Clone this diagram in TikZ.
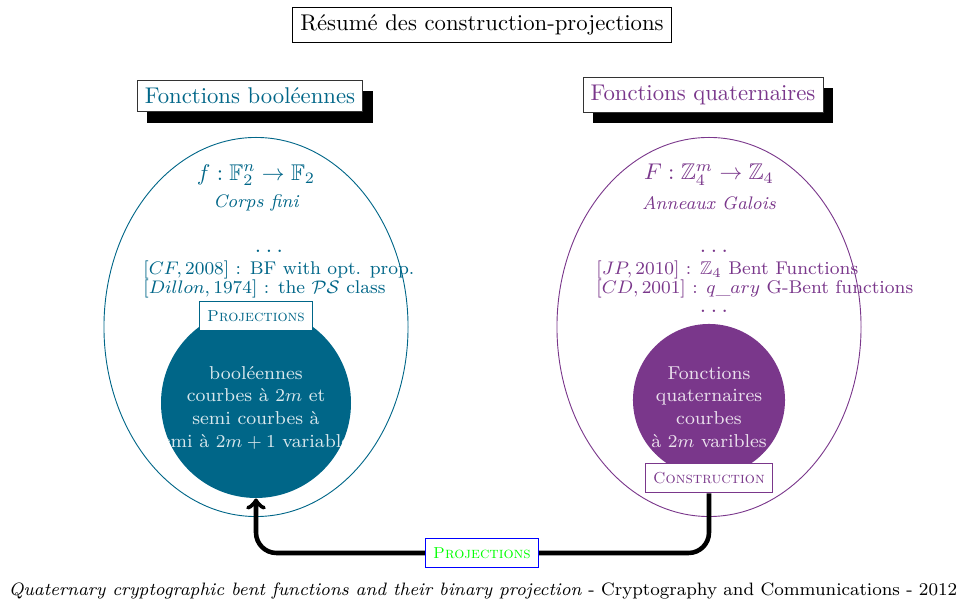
\documentclass[tikz,border=0pt]{standalone}
\usepackage{amsmath}
\usepackage{amssymb}
\usepackage{tikz}
\usetikzlibrary{arrows,shapes.geometric,shadows}

\definecolor{booleen}{RGB}{0,102,136}
\definecolor{quatern}{RGB}{122,55,139}

\newcommand{\pointilles}{.\kern2pt.\kern2pt.}

\begin{document}
\begin{tikzpicture}[x=0.44pt,y=-0.44pt,thin]

    \tikzstyle{titre}=[draw=black!80,fill=white,drop shadow={shadow xshift=4.4pt,shadow yshift=-4.8pt,fill=black,opacity=1}]
    \tikzstyle{info}=[inner sep=0pt,font=\fontsize{8.1pt}{9pt}\selectfont]
    \tikzstyle{etiq}=[fill=white,inner xsep=3.5pt,inner ysep=4pt,font=\scriptsize\scshape]
    \tikzstyle{rond}=[circle,inner sep=0pt]
    \tikzstyle{dedans}=[text=white,text opacity=0.85,align=center,font=\fontsize{8.2pt}{10pt}\selectfont]
    \tikzstyle{fleche}=[line width=2pt,rounded corners=9pt]

    \useasboundingbox (0,0) rectangle (959,601);

    \node[draw=black] (resume) at (482,25) {R\'esum\'e des construction-projections};

    % fonctions booleennes
    \node[titre,text=booleen] (fb) at (250,96) {Fonctions bool\'eennes};
    \node[ellipse,draw=booleen,inner sep=0pt,minimum width=133.8pt,minimum height=166.8pt] (ellb) at (256,327) {};
    \node[text=booleen] (f) at (256,175) {$f:\mathbb{F}_2^n\rightarrow\mathbb{F}_2$};
    \node[text=booleen,font=\footnotesize\itshape] (corps) at (256,203) {Corps fini};
    \node[inner sep=0pt,text=booleen] (db) at (269,251) {\pointilles};
    \node[info,text=booleen,anchor=west] (cf) at (143,270) {$[CF,2008]$ : BF with opt. prop.};
    \node[info,text=booleen,anchor=west] (dil) at (143,289) {$[Dillon,1974]$ : the $\mathcal{PS}$ class};
    \node[rond,fill=booleen,minimum size=83.6pt,
      path picture={\node[dedans] (tb) at ([yshift=-2pt]path picture bounding box.center)
        {bool\'eennes\\courbes \`a $2m$ et\\semi courbes \`a\\semi \`a $2m+1$ variables};}] (cb) at (256,403) {};
    \node[etiq,draw=booleen,text=booleen] (projb) at (256,316) {Projections};

    % fonctions quaternaires
    \node[titre,text=quatern] (fq) at (703,95) {Fonctions quaternaires};
    \node[ellipse,draw=quatern,inner sep=0pt,minimum width=133.8pt,minimum height=166.8pt] (ellq) at (709,327) {};
    \node[text=quatern] (F) at (709,175) {$F:\mathbb{Z}_4^m\rightarrow\mathbb{Z}_4$};
    \node[text=quatern,font=\footnotesize\itshape] (anneaux) at (709,203) {Anneaux Galois};
    \node[inner sep=0pt,text=quatern] (dq1) at (714,251) {\pointilles};
    \node[info,text=quatern,anchor=west] (jp) at (596,270) {$[JP,2010]$ : $\mathbb{Z}_4$ Bent Functions};
    \node[info,text=quatern,anchor=west] (cd) at (596,289) {$[CD,2001]$ : $q\_ary$ G-Bent functions};
    \node[inner sep=0pt,text=quatern] (dq2) at (714,311) {\pointilles};
    \node[rond,fill=quatern,minimum size=66.9pt] (cq) at (709,400) {};
    \node[dedans] (tq) at (709,407) {Fonctions\\quaternaires\\courbes\\\`a $2m$ varibles};
    \node[etiq,draw=quatern,text=quatern] (constr) at (709,478) {Construction};

    % projection
    \node[etiq,draw=blue,text=green] (proj) at (482,553) {Projections};
    \draw[fleche] (constr.south) |- (proj.east);
    \draw[fleche,->] (proj.west) -| (cb.south);

    \node[font=\fontsize{7.9pt}{9pt}\selectfont] (ref) at (483,591) {\textit{Quaternary cryptographic bent functions and their binary projection} - Cryptography and Communications - 2012};

\end{tikzpicture}
\end{document}
